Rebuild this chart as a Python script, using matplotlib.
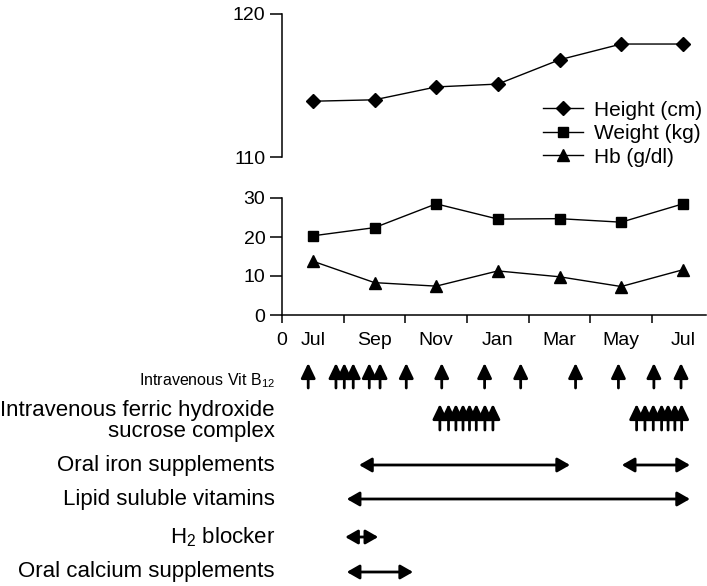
import matplotlib
matplotlib.use("Agg")
import matplotlib.pyplot as plt
from matplotlib.lines import Line2D
from matplotlib.transforms import blended_transform_factory

plt.rcParams['font.family'] = ['Liberation Sans', 'DejaVu Sans']
plt.rcParams['mathtext.default'] = 'regular'

# --- data (x in months from the start of the axis; ticks every 2 months) ---
visit_x = [1, 3, 5, 7, 9, 11, 13]
month_labels = ['Jul', 'Sep', 'Nov', 'Jan', 'Mar', 'May', 'Jul']
height_cm = [113.9, 114.0, 114.9, 115.1, 116.8, 117.9, 117.9]
weight_kg = [20.3, 22.4, 28.5, 24.6, 24.7, 23.8, 28.5]
hb_gdl = [13.8, 8.3, 7.4, 11.3, 9.8, 7.3, 11.6]

vitb12_doses = [0.85, 1.75, 2.02, 2.31, 2.83, 3.18, 4.03, 5.18, 6.57,
                7.74, 9.52, 10.91, 12.06, 12.94]
ferric_doses = [5.12, 5.40, 5.64, 5.87, 6.08, 6.30, 6.58, 6.84,
                11.50, 11.77, 12.04, 12.31, 12.52, 12.74, 12.96]
oral_iron_periods = [(2.5, 9.34), (11.02, 13.23)]
lipid_vit_periods = [(2.1, 13.23)]
h2_blocker_periods = [(2.05, 3.12)]
calcium_periods = [(2.1, 4.25)]

W, H = 707, 586
fig = plt.figure(figsize=(W / 100, H / 100), dpi=100)

def frac_box(x0, y0, x1, y1):
    # pixel box (top-left origin) -> figure fraction rect
    return [x0 / W, 1 - y1 / H, (x1 - x0) / W, (y1 - y0) / H]

ax_top = fig.add_axes(frac_box(282, 14, 706, 157))
ax_bot = fig.add_axes(frac_box(282, 198, 706, 315), sharex=ax_top)
ax_trt = fig.add_axes(frac_box(282, 345, 706, 586), sharex=ax_bot)

lw = 1.0
ax_top.plot(visit_x, height_cm, color='black', lw=lw, marker='D', ms=7)
ax_bot.plot(visit_x, weight_kg, color='black', lw=lw, marker='s', ms=6.5)
ax_bot.plot(visit_x, hb_gdl, color='black', lw=lw, marker='^', ms=8)

ax_top.set_xlim(0, 13.75)
ax_top.set_ylim(110, 120)
ax_top.set_yticks([110, 120])
ax_bot.set_ylim(0, 30)
ax_bot.set_yticks([0, 10, 20, 30])

for ax in (ax_top, ax_bot):
    for s in ('top', 'right'):
        ax.spines[s].set_visible(False)
    ax.spines['left'].set_linewidth(1.1)
    ax.tick_params(axis='y', direction='out', length=9, width=1.1, labelsize=14, pad=3)
ax_top.spines['bottom'].set_visible(False)
ax_top.tick_params(axis='x', which='both', bottom=False, labelbottom=False)

ax_bot.spines['bottom'].set_linewidth(1.1)
ax_bot.set_xticks(range(0, 13, 2))
ax_bot.set_xticklabels(['0'] + [''] * 6)
ax_bot.set_xticks(visit_x, minor=True)
ax_bot.set_xticklabels(month_labels, minor=True)
ax_bot.tick_params(axis='x', which='major', direction='out', length=6, width=1.1, labelsize=14, pad=6.5)
ax_bot.tick_params(axis='x', which='minor', length=0, labelsize=14, pad=12.5)

handles = [
    Line2D([], [], color='black', lw=lw, marker='D', ms=7, label='Height (cm)'),
    Line2D([], [], color='black', lw=lw, marker='s', ms=6.5, label='Weight (kg)'),
    Line2D([], [], color='black', lw=lw, marker='^', ms=8, label='Hb (g/dl)'),
]
ax_top.legend(handles=handles, loc='upper left', bbox_to_anchor=(0.616, 0.395),
              frameon=False, fontsize=15, handlelength=1.9, handletextpad=0.55,
              labelspacing=0.22, borderpad=0, borderaxespad=0)

# --- treatment timeline (y in pixel rows of the figure) ---
ax_trt.set_ylim(586, 345)
ax_trt.axis('off')
lab = blended_transform_factory(ax_trt.transAxes, ax_trt.transData)
head = dict(color='black', lw=2, shrinkA=0, shrinkB=0, mutation_scale=18)

def up_arrows(xs, base, tip):
    for x in xs:
        ax_trt.annotate('', xy=(x, tip), xytext=(x, base),
                        arrowprops=dict(arrowstyle='-|>,head_length=0.5,head_width=0.24', **head))

def spans(periods, y):
    for a, b in periods:
        ax_trt.annotate('', xy=(b, y), xytext=(a, y),
                        arrowprops=dict(arrowstyle='<|-|>,head_length=0.42,head_width=0.24', **head))

up_arrows(vitb12_doses, 388, 363)
up_arrows(ferric_doses, 430, 404)
spans(oral_iron_periods, 465)
spans(lipid_vit_periods, 499)
spans(h2_blocker_periods, 537)
spans(calcium_periods, 572)

lx = -0.017
ax_trt.text(lx, 381, 'Intravenous Vit B$_{12}$', transform=lab, ha='right', va='center', fontsize=11.5)
ax_trt.text(lx, 421, 'Intravenous ferric hydroxide\nsucrose complex', transform=lab,
            ha='right', va='center', multialignment='right', fontsize=16, linespacing=0.95)
ax_trt.text(lx, 465, 'Oral iron supplements', transform=lab, ha='right', va='center', fontsize=16)
ax_trt.text(lx, 499, 'Lipid suluble vitamins', transform=lab, ha='right', va='center', fontsize=16)
ax_trt.text(lx, 537, 'H$_2$ blocker', transform=lab, ha='right', va='center', fontsize=16)
ax_trt.text(lx, 572, 'Oral calcium supplements', transform=lab, ha='right', va='center', fontsize=16)

fig.savefig('out.png', dpi=100)
